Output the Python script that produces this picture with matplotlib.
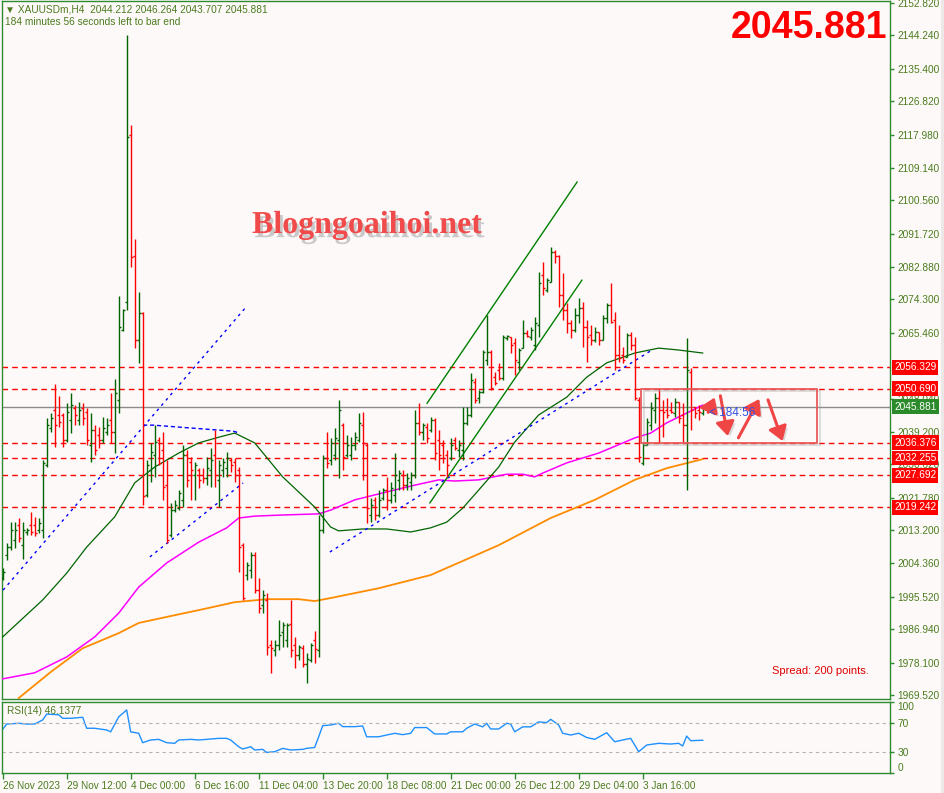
import numpy as np
import matplotlib
matplotlib.use('Agg')
import matplotlib.pyplot as plt
from matplotlib.collections import LineCollection
from matplotlib.patches import Rectangle, FancyArrowPatch
import matplotlib.patheffects as pe
import matplotlib.transforms as mtransforms

# ---------------- data (XAUUSDm H4) ----------------
open_ = [2000.5, 2006.6, 2008.7, 2010.6, 2014.5, 2009.2, 2012.7, 2014.5, 2014.5, 2013.2,
         2013.2, 2030.4, 2040.2, 2045.0, 2043.7, 2043.7, 2037.0, 2042.3, 2045.5, 2042.3,
         2045.5, 2044.5, 2035.7, 2039.7, 2038.4, 2037.0, 2039.2, 2042.3, 2039.2, 2047.6,
         2066.2, 2073.6, 2117.8, 2085.8, 2063.5, 2070.7, 2022.5, 2029.1, 2033.1, 2037.0,
         2034.4, 2025.1, 2011.9, 2018.5, 2019.0, 2021.1, 2033.1, 2031.2, 2027.8, 2029.1,
         2027.8, 2027.0, 2029.1, 2033.1, 2026.4, 2029.1, 2029.6, 2031.7, 2031.2, 2029.1,
         2009.2, 2001.3, 2002.6, 2006.6, 1997.3, 1993.3, 1994.7, 1982.7, 1981.4, 1982.7,
         1986.2, 1984.1, 1988.3, 1982.7, 1980.1, 1981.9, 1977.7, 1978.8, 1984.1, 1981.4,
         2013.2, 2032.3, 2031.7, 2033.1, 2037.0, 2041.0, 2033.1, 2033.1, 2035.7, 2037.0,
         2041.0, 2035.7, 2017.2, 2021.1, 2017.2, 2021.7, 2023.8, 2021.1, 2022.5, 2026.4,
         2027.8, 2025.1, 2025.9, 2027.8, 2041.5, 2039.2, 2040.5, 2039.7, 2042.3, 2037.0,
         2035.7, 2033.1, 2032.3, 2037.0, 2034.4, 2034.4, 2041.5, 2043.7, 2052.4, 2048.2,
         2049.8, 2058.2, 2060.4, 2053.7, 2055.6, 2053.5, 2064.1, 2064.3, 2062.7, 2057.7,
         2061.4, 2065.4, 2064.3, 2062.2, 2067.5, 2080.8, 2076.8, 2078.9, 2086.8, 2085.8,
         2075.5, 2071.5, 2068.0, 2066.2, 2070.2, 2072.0, 2067.0, 2064.9, 2063.5, 2065.7,
         2063.5, 2069.4, 2072.8, 2068.8, 2059.6, 2059.6, 2059.0, 2064.9, 2062.2, 2047.6,
         2031.0, 2035.7, 2041.0, 2045.0, 2048.2, 2045.0, 2045.0, 2045.0, 2044.2, 2047.1,
         2043.7, 2041.0, 2055.1, 2045.8, 2045.0, 2044.212]
high = [2003.1, 2009.8, 2015.3, 2015.3, 2016.4, 2015.3, 2013.7, 2018.0, 2016.6, 2016.4,
        2031.7, 2042.9, 2044.2, 2051.9, 2048.7, 2044.2, 2046.8, 2049.5, 2046.3, 2047.1,
        2046.8, 2045.5, 2044.2, 2041.0, 2040.5, 2043.1, 2042.9, 2049.5, 2053.2, 2075.2,
        2071.7, 2144.3, 2120.5, 2090.3, 2076.2, 2071.0, 2031.7, 2036.3, 2041.0, 2037.8,
        2039.2, 2031.7, 2020.4, 2021.1, 2023.8, 2035.7, 2034.4, 2032.5, 2031.2, 2029.6,
        2029.6, 2032.5, 2034.9, 2039.7, 2031.7, 2032.3, 2033.9, 2032.3, 2032.3, 2029.9,
        2009.8, 2004.7, 2007.4, 2007.4, 2000.5, 1997.3, 1996.5, 1984.1, 1984.1, 1989.4,
        1988.8, 1988.6, 1994.7, 1984.9, 1982.7, 1982.7, 1980.6, 1983.3, 1986.4, 2017.2,
        2033.1, 2039.2, 2037.6, 2040.2, 2047.6, 2041.5, 2038.4, 2037.8, 2039.2, 2044.2,
        2044.5, 2036.3, 2021.7, 2021.9, 2023.8, 2024.3, 2027.2, 2025.9, 2033.6, 2029.1,
        2029.1, 2028.3, 2028.6, 2045.0, 2046.8, 2041.5, 2041.5, 2043.1, 2042.9, 2039.7,
        2037.0, 2034.4, 2037.6, 2037.8, 2037.0, 2045.8, 2045.8, 2054.8, 2053.5, 2050.3,
        2060.9, 2070.2, 2060.9, 2055.1, 2057.4, 2064.9, 2064.9, 2064.3, 2064.1, 2061.4,
        2068.8, 2066.2, 2067.0, 2069.6, 2081.5, 2084.2, 2080.0, 2088.2, 2087.4, 2086.1,
        2081.3, 2073.3, 2068.8, 2072.0, 2074.7, 2073.6, 2068.8, 2067.5, 2067.0, 2065.7,
        2070.2, 2073.3, 2078.6, 2071.0, 2067.5, 2061.7, 2065.4, 2065.7, 2064.3, 2048.4,
        2036.5, 2042.9, 2047.1, 2049.5, 2050.8, 2047.6, 2048.2, 2047.1, 2048.2, 2047.1,
        2046.8, 2064.1, 2056.1, 2045.8, 2046.3, 2046.264]
low = [2000.0, 2005.3, 2007.9, 2008.4, 2010.0, 2005.5, 2011.9, 2011.9, 2011.6, 2012.4,
       2011.1, 2029.9, 2039.2, 2035.2, 2040.5, 2035.2, 2036.5, 2038.9, 2041.0, 2041.0,
       2041.0, 2035.7, 2031.2, 2033.1, 2034.9, 2036.3, 2038.4, 2036.3, 2033.6, 2044.2,
       2065.9, 2071.5, 2082.9, 2061.4, 2057.4, 2019.8, 2021.9, 2025.9, 2027.2, 2030.4,
       2021.1, 2009.8, 2011.3, 2018.0, 2018.5, 2019.3, 2024.6, 2021.1, 2021.1, 2024.3,
       2025.7, 2025.1, 2024.6, 2024.6, 2019.3, 2027.2, 2027.2, 2028.6, 2025.9, 2002.1,
       1994.7, 2000.0, 2000.5, 1996.5, 1991.2, 1991.2, 1980.1, 1975.3, 1979.8, 1981.4,
       1982.2, 1982.2, 1979.6, 1976.6, 1978.8, 1976.9, 1972.7, 1978.2, 1978.0, 1979.6,
       2012.4, 2029.6, 2030.4, 2031.7, 2027.0, 2029.1, 2032.5, 2031.7, 2034.4, 2036.5,
       2026.4, 2015.1, 2015.3, 2015.9, 2016.6, 2021.1, 2018.5, 2020.4, 2020.6, 2023.8,
       2023.8, 2023.8, 2023.8, 2027.0, 2038.4, 2037.0, 2036.3, 2039.2, 2031.7, 2029.1,
       2031.0, 2027.2, 2031.7, 2034.4, 2032.5, 2031.7, 2041.0, 2043.1, 2046.8, 2046.8,
       2049.5, 2056.9, 2050.3, 2051.6, 2052.9, 2052.9, 2063.5, 2060.1, 2054.3, 2055.6,
       2061.4, 2064.3, 2063.5, 2060.9, 2064.3, 2075.5, 2076.2, 2078.9, 2083.9, 2072.3,
       2068.8, 2065.4, 2064.1, 2065.7, 2068.0, 2061.7, 2057.7, 2062.2, 2063.0, 2062.2,
       2063.5, 2068.0, 2068.0, 2055.6, 2057.7, 2057.4, 2059.0, 2060.9, 2047.6, 2031.2,
       2030.4, 2035.7, 2039.7, 2041.5, 2036.3, 2037.8, 2042.9, 2044.2, 2043.1, 2041.5,
       2036.5, 2023.8, 2039.7, 2042.9, 2042.3, 2043.707]
close = [2002.1, 2008.7, 2013.2, 2013.2, 2011.1, 2013.2, 2013.2, 2012.7, 2012.4, 2015.1,
         2031.0, 2041.0, 2042.9, 2041.0, 2041.8, 2037.0, 2044.5, 2046.3, 2043.7, 2045.0,
         2042.9, 2037.0, 2039.7, 2034.4, 2037.0, 2040.2, 2041.0, 2039.2, 2049.5, 2067.0,
         2071.5, 2117.3, 2085.5, 2063.5, 2070.7, 2022.2, 2030.4, 2033.9, 2036.5, 2031.0,
         2024.6, 2010.6, 2018.5, 2019.8, 2023.0, 2033.1, 2026.4, 2029.1, 2030.4, 2026.4,
         2027.0, 2029.6, 2031.7, 2027.8, 2030.4, 2031.2, 2032.3, 2030.4, 2027.8, 2008.7,
         1995.2, 2003.9, 2006.6, 1997.3, 1992.5, 1996.0, 1982.2, 1981.9, 1982.7, 1985.4,
         1988.0, 1988.0, 1981.4, 1980.1, 1982.2, 1977.7, 1979.0, 1982.7, 1981.7, 2013.2,
         2032.3, 2031.0, 2036.3, 2037.6, 2045.0, 2032.5, 2035.7, 2035.7, 2037.8, 2041.5,
         2036.3, 2019.0, 2019.8, 2017.2, 2021.1, 2023.8, 2021.1, 2024.3, 2027.8, 2028.3,
         2025.1, 2027.0, 2027.8, 2041.5, 2039.2, 2041.0, 2037.6, 2042.3, 2033.6, 2033.1,
         2032.3, 2030.4, 2035.7, 2034.9, 2035.7, 2041.5, 2043.7, 2052.9, 2047.6, 2049.8,
         2060.4, 2060.4, 2050.8, 2052.1, 2053.5, 2064.3, 2064.6, 2062.2, 2058.2, 2060.9,
         2065.4, 2064.6, 2066.2, 2068.0, 2078.6, 2077.3, 2079.4, 2086.8, 2085.8, 2075.5,
         2071.5, 2068.0, 2066.2, 2070.2, 2072.0, 2067.0, 2064.3, 2063.5, 2065.7, 2063.5,
         2069.4, 2072.8, 2068.3, 2059.6, 2058.8, 2058.2, 2064.9, 2062.2, 2048.2, 2032.5,
         2035.7, 2041.8, 2045.5, 2048.2, 2045.0, 2044.5, 2043.7, 2044.5, 2047.1, 2042.9,
         2041.0, 2055.6, 2045.0, 2044.2, 2044.5, 2045.881]

# moving averages (bar index, value)
ma_green_idx = [0, 10, 16, 21, 28, 33, 38, 44, 49, 54, 58, 63, 70, 78, 82, 84, 90, 96, 102, 107,
                111, 115, 119, 124, 128, 134, 141, 146, 151, 158, 164, 169, 175]
ma_green_val = [1984.9, 1994.7, 2001.8, 2008.7, 2016.7, 2025.7, 2029.9, 2033.6, 2036.3, 2037.8,
                2038.9, 2036.3, 2027.3, 2019.3, 2014.0, 2013.0, 2013.5, 2013.5, 2012.7, 2013.8,
                2015.3, 2019.0, 2023.8, 2029.9, 2036.5, 2043.7, 2048.4, 2053.7, 2057.5, 2060.1,
                2061.4, 2060.9, 2060.1]
ma_magenta_idx = [0, 8, 16, 23, 29, 34, 41, 49, 56, 59, 63, 70, 79, 82, 88, 96, 103, 109, 113,
                  119, 126, 130, 133, 135, 141, 149, 158, 162, 166, 171, 175]
ma_magenta_val = [1973.8, 1975.4, 1979.6, 1984.9, 1991.2, 1998.1, 2004.5, 2010.0, 2013.8, 2016.4,
                  2016.9, 2017.2, 2017.5, 2018.5, 2021.2, 2023.3, 2025.1, 2026.5, 2026.2, 2026.5,
                  2028.0, 2028.0, 2027.3, 2028.3, 2031.0, 2033.6, 2037.6, 2038.9, 2041.6, 2044.2,
                  2046.3]
ma_orange_idx = [4, 12, 20, 29, 34, 41, 49, 58, 66, 74, 78, 82, 94, 107, 124, 137, 148, 158, 166, 175]
ma_orange_val = [1968.7, 1975.6, 1981.9, 1985.9, 1988.6, 1990.2, 1992.0, 1994.1, 1994.9, 1994.9,
                 1994.4, 1995.2, 1997.8, 2001.3, 2009.2, 2016.4, 2021.2, 2026.5, 2029.6, 2032.0]

# RSI(14)
rsi_idx = [0, 1, 4, 6, 8, 10, 11, 14, 15, 17, 20, 21, 23, 26, 27, 29, 31, 32, 34, 35, 37, 39, 41,
           43, 44, 47, 49, 51, 54, 56, 57, 59, 60, 62, 63, 65, 66, 68, 70, 72, 75, 76, 78, 79, 80,
           82, 84, 85, 88, 90, 91, 94, 96, 98, 100, 102, 103, 106, 108, 111, 112, 115, 116, 118,
           120, 121, 122, 124, 126, 127, 128, 130, 132, 134, 136, 137, 139, 140, 142, 144, 146,
           148, 151, 153, 155, 157, 159, 161, 164, 167, 169, 170, 171, 172, 175]
rsi_val = [61.5, 69, 70, 69, 69, 74.7, 83, 82, 77, 77, 78.5, 63, 63, 60.6, 58, 79, 88.8, 58, 56,
           42.7, 46.5, 47.4, 42.7, 41.8, 46.5, 47.4, 46.5, 47.4, 48.8, 48.8, 46.5, 37, 33.8, 37,
           32.4, 33.3, 29, 30, 34.7, 32.4, 33.3, 34.7, 36, 51, 66.7, 67.6, 70, 65.3, 65.3, 66.2,
           51, 51, 53.5, 55.9, 54, 55.9, 64, 64, 55, 55, 58, 58, 63, 69, 65, 70, 62, 62, 70, 69,
           58, 65, 65, 72, 71, 75.6, 67.6, 56, 53.5, 56, 50, 47.4, 56.8, 44, 46.5, 48.8, 30,
           39.4, 41.8, 40.8, 41.8, 38, 52, 45.5, 46.1377]

# drawn objects (bar index, price)
blue_line1 = ([0.1, 60.6], [1997.3, 2072.0])
blue_line2 = ([35.1, 37.6, 57.6, 59.3], [2041.0, 2041.0, 2039.4, 2038.9])
blue_line3 = ([36.8, 60.1], [2006.1, 2025.7])
blue_line4 = ([81.8, 162.3], [2007.4, 2060.9])
chan_upper = ([106.1, 143.6], [2046.8, 2105.4])
chan_lower = ([106.8, 144.8], [2020.4, 2079.4])
box_x = [159.6, 203.6]
box_y = [2036.376, 2050.690]
arrows = [((176.1, 2043.7), (178.3, 2049.0)),
          ((179.3, 2049.5), (181.4, 2037.4)),
          ((183.6, 2037.0), (189.5, 2048.6)),
          ((191.1, 2048.4), (195.2, 2036.1))]

levels = [2056.329, 2050.690, 2036.376, 2032.255, 2027.692, 2019.242]
price_ticks = [2152.820, 2144.240, 2135.400, 2126.820, 2117.980, 2109.140, 2100.560, 2091.720,
               2082.880, 2074.300, 2065.460, 2048.040, 2039.200, 2030.620, 2021.780, 2013.200,
               2004.360, 1995.520, 1986.940, 1978.100, 1969.520]
date_ticks = [0, 16, 32, 48, 64, 80, 96, 112, 128, 144, 160]
date_labels = ['26 Nov 2023', '29 Nov 12:00', '4 Dec 00:00', '6 Dec 16:00', '11 Dec 04:00',
               '13 Dec 20:00', '18 Dec 08:00', '21 Dec 00:00', '26 Dec 12:00', '29 Dec 04:00',
               '3 Jan 16:00']

# ---------------- figure ----------------
W, H = 945, 793
BG = '#fdf9f9'
FRAME = '#2e8b2e'
TXT = '#4b7c1e'
BULL = '#006400'
BEAR = '#ff0000'
plt.rcParams['font.family'] = ['Liberation Sans', 'DejaVu Sans']

fig = plt.figure(figsize=(W / 100, H / 100), dpi=100, facecolor=BG)


def box(l, t, r, b):
    return [l / W, 1 - b / H, (r - l) / W, (b - t) / H]


ax = fig.add_axes(box(2, 1, 890, 699))
rx = fig.add_axes(box(2, 702, 890, 773))
for a in (ax, rx):
    a.set_facecolor(BG)
    a.set_xlim(-0.17, 221.83)
    for s in a.spines.values():
        s.set_color(FRAME)
        s.set_linewidth(1)
ax.set_ylim(1968.46, 2153.35)
rx.set_ylim(0, 100)

# OHLC bars
o = np.array(open_); h = np.array(high); l = np.array(low); c = np.array(close)
xs = np.arange(len(c))
cols = np.where(c >= o, BULL, BEAR)
vsegs = np.stack([np.column_stack([xs, l]), np.column_stack([xs, h])], axis=1)
osegs = np.stack([np.column_stack([xs - 0.5, o]), np.column_stack([xs, o])], axis=1)
csegs = np.stack([np.column_stack([xs, c]), np.column_stack([xs + 0.5, c])], axis=1)
for segs in (vsegs, osegs, csegs):
    ax.add_collection(LineCollection(segs, colors=cols, linewidths=1.0, zorder=4,
                                     capstyle='butt'))

# levels
for lv in levels:
    ax.axhline(lv, color='#ff0000', lw=1, ls=(0, (4, 3)), zorder=2)
ax.axhline(c[-1], color='#8c8c8c', lw=1, zorder=2)

# moving averages
ax.plot(ma_orange_idx, ma_orange_val, color='#ff8c00', lw=1.3, zorder=3)
ax.plot(ma_magenta_idx, ma_magenta_val, color='#ff00ff', lw=1.1, zorder=3)
ax.plot(ma_green_idx, ma_green_val, color='#006400', lw=0.9, zorder=3)

# trendlines
ax.plot(*blue_line1, color='#0000ff', lw=1, ls=(0, (2, 3)), zorder=3)
ax.plot(*blue_line2, color='#0000ff', lw=1, ls=(0, (3, 2)), zorder=3)
ax.plot(*blue_line3, color='#0000ff', lw=1, ls=(0, (2, 3)), zorder=3)
ax.plot(*blue_line4, color='#0000ff', lw=1, ls=(0, (2, 3)), zorder=3)
ax.plot(*chan_upper, color='#008000', lw=1, zorder=3)
ax.plot(*chan_lower, color='#008000', lw=1, zorder=3)

# rectangle
rect = Rectangle((box_x[0], box_y[0]), box_x[1] - box_x[0], box_y[1] - box_y[0],
                 fill=False, ec='#e85a5a', lw=1.3, zorder=5,
                 path_effects=[pe.SimpleLineShadow(offset=(2, -2), shadow_color='#999999', alpha=0.35),
                               pe.Normal()])
ax.add_patch(rect)

# arrows
for (p0, p1) in arrows:
    ar = FancyArrowPatch(p0, p1, arrowstyle='-|>,head_length=0.6,head_width=0.4',
                         mutation_scale=14, lw=2.2, color='#f04545', zorder=7,
                         path_effects=[pe.withSimplePatchShadow(offset=(2, -2), shadow_rgbFace='#888888',
                                                                alpha=0.3)])
    ax.add_patch(ar)

# countdown text
ax.text(len(c) + 0.7, c[-1] - 1.6, '< 184:56', color='#3050e0', fontsize=8.5,
        ha='left', va='center', zorder=8)

# price axis
ax.yaxis.tick_right()
ax.set_yticks(price_ticks)
ax.set_yticklabels([f'{v:.3f}' for v in price_ticks])
ax.tick_params(axis='y', direction='out', length=3, width=1, color=FRAME, labelcolor=TXT,
               labelsize=7.3, pad=2.5)
ax.tick_params(axis='x', bottom=False, labelbottom=False)

trans = mtransforms.blended_transform_factory(ax.transAxes, ax.transData)
for lv in levels:
    ax.text(1.0045, lv, f'{lv:.3f}', transform=trans, ha='left', va='center', fontsize=7.3,
            color='white', zorder=10, clip_on=False,
            bbox=dict(boxstyle='square,pad=0.22', fc='#ff0000', ec='none'))
ax.text(1.0045, c[-1], f'{c[-1]:.3f}', transform=trans, ha='left', va='center', fontsize=7.3,
        color='white', zorder=10, clip_on=False,
        bbox=dict(boxstyle='square,pad=0.22', fc='#2b8b2b', ec='none'))

# RSI panel
rx.plot(rsi_idx, rsi_val, color='#1e90ff', lw=1.0)
rx.axhline(70, color='#b4b4b4', lw=0.8, ls=(0, (3, 3)))
rx.axhline(30, color='#b4b4b4', lw=0.8, ls=(0, (3, 3)))
rx.yaxis.tick_right()
rx.set_yticks([100, 70, 30, 0])
rx.set_yticklabels(['100', '70', '30', '0'])
rx.tick_params(axis='y', direction='out', length=3, width=1, color=FRAME, labelcolor=TXT,
               labelsize=7.3, pad=2.5)
ylabs = rx.get_yticklabels()
ylabs[0].set_va('top')
ylabs[3].set_va('bottom')
rx.set_xticks(date_ticks)
rx.set_xticklabels(date_labels)
rx.tick_params(axis='x', direction='out', length=4, width=1, color=FRAME, labelcolor=TXT,
               labelsize=7.2, pad=2)
for lab in rx.get_xticklabels():
    lab.set_ha('left')
rx.text(0.006, 0.87, f'RSI(14) {rsi_val[-1]:.4f}', transform=rx.transAxes, fontsize=7.3,
        color=TXT, ha='left', va='center')

# header & annotations
fig.text(5 / W, 1 - 9 / H,
         f'\u25bc XAUUSDm,H4  {open_[-1]:.3f} {high[-1]:.3f} {low[-1]:.3f} {close[-1]:.3f}',
         fontsize=7.3, color=TXT, ha='left', va='center')
fig.text(5 / W, 1 - 22 / H, '184 minutes 56 seconds left to bar end', fontsize=7.3,
         color=TXT, ha='left', va='center')
fig.text(887 / W, 1 - 38 / H, f'{close[-1]:.3f}', fontsize=27, weight='bold',
         color='#ff0000', ha='right', va='baseline')
fig.text(252 / W, 1 - 233 / H, 'Blogngoaihoi.net', family='Liberation Serif', weight='bold',
         fontsize=23, color='#f04a4a', ha='left', va='baseline',
         path_effects=[pe.withSimplePatchShadow(offset=(2, -3), shadow_rgbFace='#999999',
                                                alpha=0.5)])
fig.text(772 / W, 1 - 671 / H, 'Spread: 200 points.', fontsize=8, color='#e00000',
         ha='left', va='center')

fig.patches.append(Rectangle((941 / W, 0), 4 / W, 1, transform=fig.transFigure,
                             fc='#ece8e8', ec='none'))

fig.savefig('out.png', dpi=100, facecolor=BG)
